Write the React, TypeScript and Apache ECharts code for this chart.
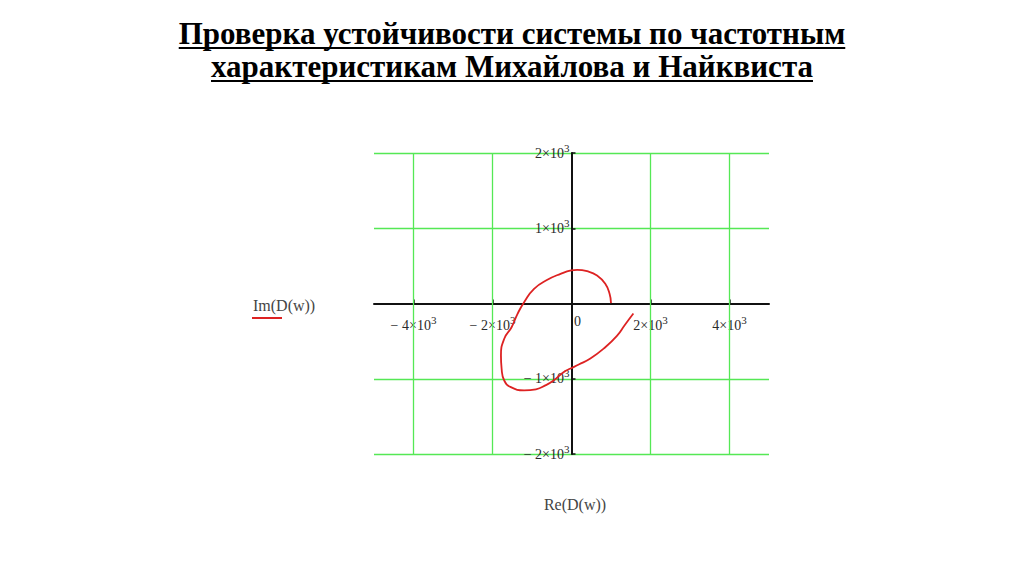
import React, { useEffect, useRef } from 'react';
import * as echarts from 'echarts';

const titleLines = [
  'Проверка устойчивости системы по частотным',
  'характеристикам Михайлова и Найквиста',
];
const legendLabel = 'Im(D(w))';
const xAxisTitle = 'Re(D(w))';

// Mikhailov hodograph: Re(D(w)) and Im(D(w))
const reX = [1000, 964, 855, 647, 395, 143, -8, -277, -611, -948, -1200, -1366, -1517, -1703, -1786, -1769, -1703, -1535, -1200, -900, -650, -445, -194, -25, 184, 478, 813, 1150, 1350, 1567];
const imY = [5, 129, 262, 372, 429, 448, 440, 394, 315, 195, 17, -137, -315, -469, -691, -867, -1023, -1112, -1155, -1140, -1085, -1020, -910, -864, -811, -731, -600, -430, -285, -133];

const xGridValues = [-4000, -2000, 2000, 4000];
const xLabelValues = [-4000, -2000, 0, 2000, 4000];
const xTickValues = [-4000, -2000, 2000, 4000];
const yLabelValues = [-2000, -1000, 1000, 2000];

const SERIF = '"Liberation Serif", "Times New Roman", serif';
const GREEN = '#55e855';
const RED = '#dd2222';
const TXT = '#2a2a2a';

function sci(v: number): string {
  if (v === 0) return '{z|0}';
  const sign = v < 0 ? '− ' : '';
  return `{b|${sign}${Math.abs(v) / 1000}×10}{s|3}`;
}

const rich = {
  b: { fontSize: 14, fontFamily: SERIF, color: TXT },
  s: { fontSize: 11, fontFamily: SERIF, color: TXT, padding: [0, 0, 11, 0] },
  z: { fontSize: 14, fontFamily: SERIF, color: TXT, padding: [0, 0, 0, 12] },
};

const GRID = { left: 374, top: 153, width: 395, height: 301 };

export default function App() {
  const ref = useRef<HTMLDivElement>(null);
  useEffect(() => {
    if (!ref.current) return;
    const chart = echarts.init(ref.current, null, { renderer: 'svg' });

    const titleSize = 31;
    const ctx = document.createElement('canvas').getContext('2d');
    const widths = titleLines.map((t) => {
      if (!ctx) return 600;
      ctx.font = `bold ${titleSize}px ${SERIF}`;
      return ctx.measureText(t).width;
    });
    const cx = 512;
    const titleY = [33, 66.5];
    const underlineY = [48, 81];

    const graphic: any[] = [];
    titleLines.forEach((t, i) => {
      graphic.push({
        type: 'text',
        x: cx,
        y: titleY[i],
        style: {
          text: t,
          fontSize: titleSize,
          fontWeight: 'bold',
          fontFamily: SERIF,
          fill: '#000',
          align: 'center',
          verticalAlign: 'middle',
        },
      });
      graphic.push({
        type: 'line',
        shape: { x1: cx - widths[i] / 2, y1: underlineY[i], x2: cx + widths[i] / 2, y2: underlineY[i] },
        style: { stroke: '#000', lineWidth: 2 },
      });
    });
    graphic.push({
      type: 'text',
      x: 253,
      y: 305,
      style: { text: legendLabel, fontSize: 16, fontFamily: SERIF, fill: '#444', align: 'left', verticalAlign: 'middle' },
    });
    graphic.push({
      type: 'line',
      shape: { x1: 252, y1: 318, x2: 282, y2: 318 },
      style: { stroke: RED, lineWidth: 2 },
    });
    graphic.push({
      type: 'text',
      x: 575,
      y: 504,
      style: { text: xAxisTitle, fontSize: 16, fontFamily: SERIF, fill: '#444', align: 'center', verticalAlign: 'middle' },
    });

    chart.setOption({
      animation: false,
      backgroundColor: '#fff',
      grid: { ...GRID, containLabel: false },
      xAxis: {
        type: 'value',
        min: -5000,
        max: 5000,
        position: 'bottom',
        offset: -GRID.height / 2,
        axisLine: { show: true, onZero: false, lineStyle: { color: '#111', width: 2 } },
        axisTick: { show: true, inside: true, length: 4, customValues: xTickValues, lineStyle: { color: '#111', width: 1.5 } },
        axisLabel: {
          show: true,
          customValues: xLabelValues,
          margin: 11,
          formatter: (v: number) => sci(v),
          rich,
        },
        splitLine: { show: false },
      },
      yAxis: {
        type: 'value',
        min: -2000,
        max: 2000,
        interval: 1000,
        position: 'left',
        offset: -GRID.width / 2,
        axisLine: { show: true, onZero: false, lineStyle: { color: '#111', width: 2 } },
        axisTick: { show: true, inside: true, length: 4, customValues: yLabelValues, lineStyle: { color: '#111', width: 1.5 } },
        axisLabel: {
          show: true,
          customValues: yLabelValues,
          margin: 2,
          formatter: (v: number) => sci(v),
          rich,
        },
        splitLine: { show: true, lineStyle: { color: GREEN, width: 1.3 } },
      },
      series: [
        {
          type: 'line',
          data: reX.map((x, i) => [x, imY[i]]),
          smooth: 0.5,
          showSymbol: false,
          symbol: 'none',
          lineStyle: { color: RED, width: 1.8 },
          z: 3,
          markLine: {
            silent: true,
            symbol: ['none', 'none'],
            label: { show: false },
            lineStyle: { color: GREEN, width: 1.3, type: 'solid' },
            data: xGridValues.map((v) => ({ xAxis: v })),
            z: 1,
          },
        },
      ],
      graphic,
    });
    return () => chart.dispose();
  }, []);
  return (
    <div
      ref={ref}
      style={{ position: 'absolute', left: 0, top: 0, width: 1024, height: 574, background: '#fff' }}
    />
  );
}
